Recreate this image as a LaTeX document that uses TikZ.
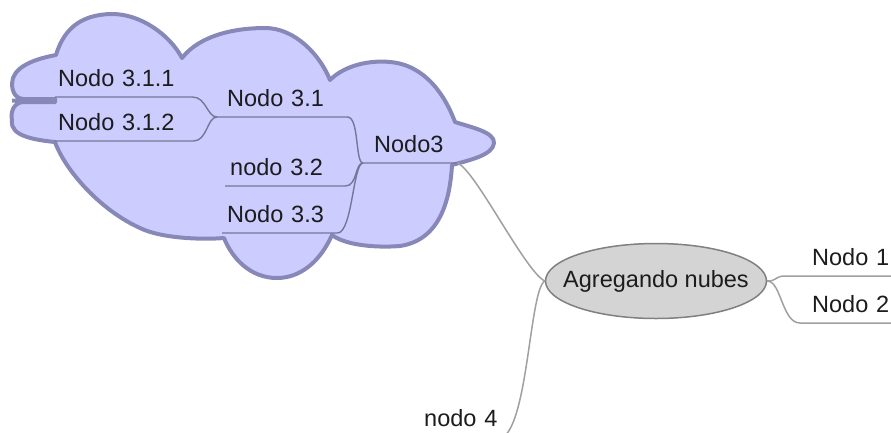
\documentclass[tikz,border=0pt]{standalone}
\usepackage{fontspec}
\setmainfont{Liberation Sans}
\usepackage{tikz}
\usetikzlibrary{shapes.geometric}

\definecolor{nubefondo}{RGB}{204,204,255}
\definecolor{nubeborde}{RGB}{136,136,184}
\definecolor{ramanube}{RGB}{118,118,152}
\definecolor{ramagris}{RGB}{160,160,160}
\definecolor{raizfondo}{RGB}{212,212,212}
\definecolor{raizborde}{RGB}{128,128,128}
\definecolor{texto}{RGB}{28,28,28}

\tikzset{
    nodo/.style 2 args={anchor=south west, inner xsep=#1, inner ysep=0pt, text width=#2,
        align=left, text height=18pt, text depth=10pt, text=texto,
        font=\fontsize{23.5}{28}\selectfont},
    raiz/.style={ellipse, draw=raizborde, fill=raizfondo, line width=1.5pt,
        minimum width=221pt, minimum height=75pt, inner sep=0pt, text=texto,
        font=\fontsize{23.5}{28}\selectfont},
    nube/.style={draw=nubeborde, fill=nubefondo, line width=4pt, line join=round},
    ramanube/.style={draw=ramanube, line width=1.4pt},
    rama/.style={draw=ramagris, line width=1.5pt}
}

\begin{document}
\begin{tikzpicture}[x=1pt, y=-1pt]
        \useasboundingbox (0,0) rectangle (891,432);
        \clip (0,0) rectangle (891,432);
        \fill[white] (0,0) rectangle (891,432);

        \draw[nube] (55,99) -- (24,99)
            .. controls (15,99) and (10,90) .. (13,78)
            .. controls (18,64) and (40,58) .. (56,55)
            .. controls (65,25) and (85,15) .. (110,14)
            .. controls (140,13) and (170,35) .. (182,58)
            .. controls (200,35) and (235,28) .. (265,28)
            .. controls (295,28) and (320,55) .. (330,80)
            .. controls (345,65) and (370,60) .. (390,62)
            .. controls (425,65) and (445,95) .. (455,122)
            .. controls (470,127) and (495,132) .. (494,143)
            .. controls (493,155) and (470,160) .. (452,165)
            .. controls (450,200) and (440,240) .. (400,246)
            .. controls (375,248) and (345,245) .. (332,235)
            .. controls (320,262) and (300,278) .. (277,278)
            .. controls (250,278) and (232,258) .. (224,238)
            .. controls (200,240) and (160,238) .. (140,228)
            .. controls (100,210) and (65,170) .. (55,142)
            .. controls (35,140) and (10,136) .. (12,121)
            .. controls (10,110) and (15,102) .. (24,102)
            -- (55,102) -- cycle
            (12,100.5) -- (55,100.5);

        \node[nodo={3pt}{131pt}]  (n311) at (55,97)  {Nodo 3.1.1};
        \node[nodo={3pt}{132pt}]  (n312) at (55,141) {Nodo 3.1.2};
        \node[nodo={10pt}{110pt}] (n31)  at (217,117) {Nodo 3.1};
        \node[nodo={11pt}{72pt}]  (n3)   at (363,163) {Nodo3};
        \node[nodo={5pt}{110pt}]  (n32)  at (225,186) {nodo 3.2};
        \node[nodo={5pt}{105pt}]  (n33)  at (222,233) {Nodo 3.3};
        \node[nodo={27pt}{86pt}]  (n1)   at (785,276) {Nodo 1};
        \node[nodo={12pt}{106pt}] (n2)   at (800,323) {Nodo 2};
        \node[nodo={4pt}{75pt}]   (n4)   at (420,437) {nodo 4};
        \node[raiz] (raiz) at (656,281) {\makebox[0pt]{Agregando nubes}};

        \draw[ramanube] (n311.south west) -- (n311.south east) .. controls +(14,0) and +(-10,0) .. (n31.south west);
        \draw[ramanube] (n312.south west) -- (n312.south east) .. controls +(14,0) and +(-10,0) .. (n31.south west);
        \draw[ramanube] (n31.south west) -- (n31.south east) .. controls +(12,0) and +(-8,0) .. (n3.south west);
        \draw[ramanube] (n32.south west) -- (n32.south east) .. controls +(12,0) and +(-8,0) .. (n3.south west);
        \draw[ramanube] (n33.south west) -- (n33.south east) .. controls +(15,0) and +(-10,0) .. (n3.south west) -- (n3.south east);

        \draw[rama] (n3.south east) .. controls +(18,7) and +(-20,-10) .. (raiz.west);
        \draw[rama] (raiz.west) .. controls +(-15,9) and +(25,-18) .. (n4.south east);
        \draw[rama] (raiz.east) .. controls +(10,0) and +(-10,0) .. (n1.south west) -- (n1.south east);
        \draw[rama] (raiz.east) .. controls +(14,0) and +(-18,0) .. (n2.south west) -- (n2.south east);
    \end{tikzpicture}
\end{document}
